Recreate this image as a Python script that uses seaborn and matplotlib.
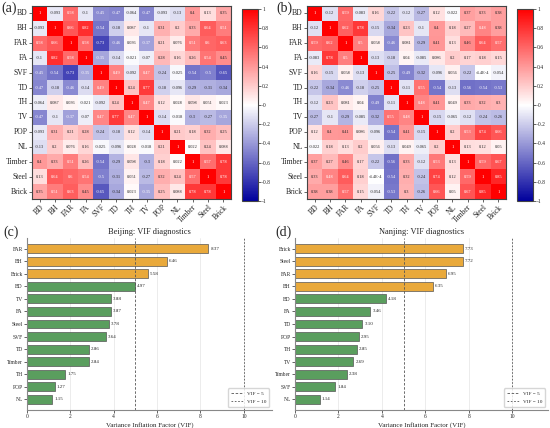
import numpy as np
import pandas as pd
import matplotlib
matplotlib.use("Agg")
import matplotlib.pyplot as plt
import seaborn as sns
from matplotlib.colors import LinearSegmentedColormap
from matplotlib.lines import Line2D

# data
variables = ['BD', 'BH', 'FAR', 'FA', 'SVF', 'TD', 'TH', 'TV', 'POP', 'NL', 'Timber', 'Steel', 'Brick']

beijing_corr = [
    [1, -0.093, 0.58, -0.1, -0.45, -0.47, -0.064, -0.47, -0.093, -0.13, 0.4, 0.13, 0.35],
    [-0.093, 1, 0.66, 0.82, -0.54, -0.18, 0.087, -0.1, 0.31, 0.2, 0.33, 0.64, 0.51],
    [0.58, 0.66, 1, 0.58, -0.73, -0.46, 0.036, -0.37, 0.21, 0.076, 0.51, 0.6, 0.63],
    [-0.1, 0.82, 0.58, 1, -0.35, -0.14, -0.021, -0.07, 0.28, 0.16, 0.26, 0.54, 0.45],
    [-0.45, -0.54, -0.73, -0.35, 1, 0.49, -0.092, 0.47, -0.24, -0.025, -0.54, -0.5, -0.65],
    [-0.47, -0.18, -0.46, -0.14, 0.49, 1, 0.24, 0.77, -0.18, -0.096, -0.29, -0.31, -0.34],
    [-0.064, 0.087, 0.036, -0.021, -0.092, 0.24, 1, 0.47, 0.12, 0.028, 0.098, 0.051, 0.023],
    [-0.47, -0.1, -0.37, -0.07, 0.47, 0.77, 0.47, 1, -0.14, -0.018, -0.3, -0.27, -0.35],
    [-0.093, 0.31, 0.21, 0.28, -0.24, -0.18, 0.12, -0.14, 1, 0.21, 0.18, 0.32, 0.25],
    [-0.13, 0.2, 0.076, 0.16, -0.025, -0.096, 0.028, -0.018, 0.21, 1, 0.022, 0.24, 0.088],
    [0.4, 0.33, 0.51, 0.26, -0.54, -0.29, 0.098, -0.3, 0.18, 0.022, 1, 0.57, 0.78],
    [0.13, 0.64, 0.6, 0.54, -0.5, -0.31, 0.051, -0.27, 0.32, 0.24, 0.57, 1, 0.78],
    [0.35, 0.51, 0.63, 0.45, -0.65, -0.34, 0.023, -0.35, 0.25, 0.088, 0.78, 0.78, 1],
]

nanjing_corr = [
    [1, -0.12, 0.59, -0.083, 0.16, -0.22, -0.12, -0.27, 0.12, -0.022, 0.37, 0.33, 0.38],
    [-0.12, 1, 0.62, 0.78, -0.15, -0.34, 0.23, -0.1, 0.4, 0.18, 0.27, 0.48, 0.38],
    [0.59, 0.62, 1, 0.5, 0.058, -0.46, 0.081, -0.29, 0.41, 0.13, 0.46, 0.64, 0.57],
    [-0.083, 0.78, 0.5, 1, -0.13, -0.18, 0.04, -0.085, 0.086, 0.2, 0.17, 0.18, 0.15],
    [0.16, -0.15, 0.058, -0.13, 1, -0.25, -0.49, -0.32, -0.096, 0.056, -0.22, -0.00044, -0.054],
    [-0.22, -0.34, -0.46, -0.18, -0.25, 1, -0.11, 0.55, -0.54, -0.13, -0.56, -0.54, -0.53],
    [-0.12, 0.23, 0.081, 0.04, -0.49, -0.11, 1, 0.48, 0.41, 0.049, 0.33, 0.32, 0.3],
    [-0.27, -0.1, -0.29, -0.085, -0.32, 0.55, 0.48, 1, -0.15, -0.065, -0.12, -0.24, -0.26],
    [0.12, 0.4, 0.41, 0.086, -0.096, -0.54, 0.41, -0.15, 1, 0.2, 0.53, 0.74, 0.66],
    [-0.022, 0.18, 0.13, 0.2, 0.056, -0.13, 0.049, -0.065, 0.2, 1, 0.13, 0.12, 0.05],
    [0.37, 0.27, 0.46, 0.17, -0.22, -0.56, 0.33, -0.12, 0.53, 0.13, 1, 0.59, 0.67],
    [0.33, 0.48, 0.64, 0.18, -0.00044, -0.54, 0.32, -0.24, 0.74, 0.12, 0.59, 1, 0.85],
    [0.38, 0.38, 0.57, 0.15, -0.054, -0.53, 0.3, -0.26, 0.66, 0.05, 0.67, 0.85, 1],
]

beijing_vif_names = ['FAR', 'BH', 'Brick', 'BD', 'TV', 'FA', 'Steel', 'SVF', 'TD', 'Timber', 'TH', 'POP', 'NL']
beijing_vif = [8.37, 6.46, 5.58, 4.97, 3.88, 3.87, 3.78, 3.64, 2.86, 2.84, 1.75, 1.27, 1.15]

nanjing_vif_names = ['Brick', 'Steel', 'FAR', 'BH', 'BD', 'FA', 'TD', 'POP', 'TH', 'TV', 'Timber', 'SVF', 'NL']
nanjing_vif = [7.73, 7.72, 6.95, 6.35, 4.18, 3.46, 3.10, 2.95, 2.85, 2.69, 2.38, 1.84, 1.14]

# style
sns.set_style("white")
plt.rcParams['font.family'] = ['Liberation Serif', 'DejaVu Serif']
plt.rcParams['axes.unicode_minus'] = False

cmap = LinearSegmentedColormap.from_list('bwr_dark', ['#00009C', '#FFFFFF', '#FF0000'])
ORANGE = '#E9A93B'
GREEN = '#5A9E5E'


def fmt_corr(v):
    if v == 1:
        return '1'
    if abs(v) < 1e-3:
        m, e = f"{v:.1E}".split('E')
        return f"{m}E{int(e)}"
    return f"{v:.2g}"


def draw_heatmap(ax, cax, corr, tag, tag_x):
    df = pd.DataFrame(corr, index=variables, columns=variables)
    labels = df.map(fmt_corr).values
    sns.heatmap(df, ax=ax, cbar_ax=cax, cmap=cmap, vmin=-1, vmax=1,
                annot=labels, fmt='', annot_kws={'fontsize': 3.2},
                xticklabels=variables, yticklabels=variables)
    ax.tick_params(left=True, bottom=True, length=2, width=0.5, labelsize=5.5, pad=1)
    plt.setp(ax.get_xticklabels(), rotation=45, ha='right', rotation_mode='anchor')
    plt.setp(ax.get_yticklabels(), rotation=0)
    ax.set_xlabel('')
    ax.set_ylabel('')
    for sp in ax.spines.values():
        sp.set_visible(True)
        sp.set_color('#444444')
        sp.set_linewidth(0.8)
    cb = ax.collections[0].colorbar
    ticks = np.round(np.arange(-1, 1.01, 0.2), 1)
    cb.set_ticks(ticks)
    cb.set_ticklabels([f"{t:g}" for t in ticks])
    cax.tick_params(labelsize=4, length=2, width=0.5, pad=1, right=True)
    cb.outline.set_visible(True)
    cb.outline.set_edgecolor('#444444')
    cb.outline.set_linewidth(0.8)
    fig.text(tag_x / W, 1 - 2 / H, tag, fontsize=10, va='top', ha='left')


def draw_vif(ax, names, vals, title, tag, xmax, tag_x):
    colors = [ORANGE if v > 5 else GREEN for v in vals]
    sns.barplot(x=vals, y=names, hue=names, palette=colors, legend=False, ax=ax,
                orient='h', width=0.7, edgecolor='#555555', linewidth=0.5, saturation=1)
    for i, v in enumerate(vals):
        ax.text(v + 0.1, i, f"{v:.2f}", va='center', ha='left', fontsize=3.6)
    ax.axvline(5, color='#555555', linestyle=(0, (3, 2)), linewidth=0.6)
    ax.axvline(10, color='#555555', linestyle=(0, (2, 2)), linewidth=0.6)
    ax.set_xlim(0, xmax)
    ax.set_ylim(len(vals) - 1 + 0.85, -0.85)
    ax.set_xticks([0, 2, 4, 6, 8, 10])
    ax.grid(axis='x', color='#E5E5E5', linewidth=0.5)
    ax.set_axisbelow(True)
    sns.despine(ax=ax)
    for sp in ['left', 'bottom']:
        ax.spines[sp].set_color('#888888')
        ax.spines[sp].set_linewidth(0.8)
    ax.tick_params(left=True, bottom=True, length=2, width=0.5, labelsize=4, pad=1)
    ax.set_xlabel('Variance Inflation Factor (VIF)', fontsize=5, labelpad=2)
    ax.set_ylabel('')
    ax.set_title(title, fontsize=6, pad=3)
    handles = [Line2D([0], [0], color='#555555', linestyle=(0, (3, 2)), linewidth=0.6),
               Line2D([0], [0], color='#555555', linestyle=(0, (2, 2)), linewidth=0.6)]
    ax.legend(handles, ['VIF = 5', 'VIF = 10'], loc='lower right', fontsize=3.8,
              frameon=True, edgecolor='#CCCCCC', handlelength=2.2, borderpad=0.6,
              labelspacing=0.6)
    fig.text(tag_x / W, 1 - 226 / H, tag, fontsize=10, va='top', ha='left')


fig = plt.figure(figsize=(5.5, 4.28), dpi=100)
W, H = 550.0, 428.0


def box(x0, y0, x1, y1):
    return [x0 / W, 1 - y1 / H, (x1 - x0) / W, (y1 - y0) / H]


ax_a = fig.add_axes(box(32, 6, 231, 199))
cax_a = fig.add_axes(box(242, 9, 258, 201))
ax_b = fig.add_axes(box(307, 6, 506, 199))
cax_b = fig.add_axes(box(517, 9, 533, 201))
ax_c = fig.add_axes(box(27, 238, 272, 410))
ax_d = fig.add_axes(box(295, 238, 548, 410))

draw_heatmap(ax_a, cax_a, beijing_corr, '(a)', 1)
draw_heatmap(ax_b, cax_b, nanjing_corr, '(b)', 276)
draw_vif(ax_c, beijing_vif_names, beijing_vif, 'Beijing: VIF diagnostics', '(c)', 11.3, 3)
draw_vif(ax_d, nanjing_vif_names, nanjing_vif, 'Nanjing: VIF diagnostics', '(d)', 11.65, 275)

fig.savefig('out.png', dpi=100)
